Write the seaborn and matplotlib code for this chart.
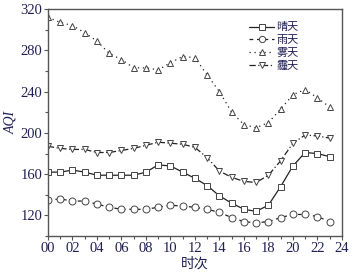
import numpy as np
import pandas as pd
import matplotlib
matplotlib.use("Agg")
import matplotlib.pyplot as plt
import seaborn as sns
from matplotlib.ticker import MultipleLocator

hours = list(range(24))
sunny = [162, 162, 164, 162, 159, 159, 159, 159, 162, 169, 168, 162,
         156, 149, 139, 132, 126, 124, 130, 148, 168, 181, 180, 177]
rainy = [135, 136, 134, 134, 131, 128, 126, 126, 126, 128, 130, 129,
         128, 126, 123, 118, 114, 113, 114, 118, 121, 121, 119, 114]
foggy = [312, 307, 304, 297, 289, 277, 271, 263, 263, 261, 268, 274,
         273, 256, 240, 220, 208, 205, 210, 223, 237, 242, 234, 225]
hazy = [187, 185, 184, 184, 181, 181, 183, 185, 188, 191, 190, 189,
        186, 176, 163, 157, 153, 152, 159, 173, 190, 198, 197, 195]
names = ["晴天", "雨天", "雾天", "霾天"]
xticks = ["00", "02", "04", "06", "08", "10", "12", "14", "16", "18", "20", "22", "24"]

sns.set_style("ticks")
plt.rcParams['font.family'] = ['Liberation Serif', 'Noto Sans CJK SC']
plt.rcParams['axes.unicode_minus'] = False

fig = plt.figure(figsize=(3.58, 2.73), dpi=100)
ax = fig.add_axes([0.134, 0.135, 0.821, 0.832])

styles = [("s", "-"), ("o", (0, (3, 3))), ("^", (0, (1, 3))), ("v", (0, (5, 2, 1, 2)))]
series = [sunny, rainy, foggy, hazy]
line_col = "#222222"
for vals, name, (mk, ls) in zip(series, names, styles):
    sns.lineplot(x=hours, y=vals, ax=ax, label=name, color=line_col,
                 linestyle=ls, linewidth=0.9, marker=mk, markersize=5,
                 markerfacecolor="white", markeredgecolor="#444444",
                 markeredgewidth=0.7)

ax.set_xlim(0, 24)
ax.set_ylim(100, 320)
ax.set_xticks(range(0, 25, 2))
ax.set_xticklabels(xticks)
ax.xaxis.set_minor_locator(MultipleLocator(1))
ax.set_yticks(range(120, 321, 40))
ax.yaxis.set_minor_locator(MultipleLocator(20))

lab_col = "#1f1f55"
ax.tick_params(axis="both", which="major", direction="out", length=3,
               width=0.8, labelsize=10.5, labelcolor=lab_col, color="#555555", pad=1)
ax.tick_params(axis="both", which="minor", direction="out", length=2,
               width=0.8, color="#555555")
for sp in ax.spines.values():
    sp.set_color("#555555")
    sp.set_linewidth(1.0)

ax.set_xlabel("时次", fontsize=10, color=lab_col, labelpad=1,
              family=['Noto Sans CJK SC'])
ax.set_ylabel("AQI", fontsize=10, color=lab_col, style="italic", labelpad=2)

leg = ax.legend(loc="upper right", bbox_to_anchor=(0.88, 0.975), frameon=False,
                fontsize=8, handlelength=2.3, handletextpad=0.2,
                labelspacing=0.25, borderpad=0.2, markerscale=0.9)
for t in leg.get_texts():
    t.set_color(lab_col)

fig.savefig("out.png", dpi=100)
